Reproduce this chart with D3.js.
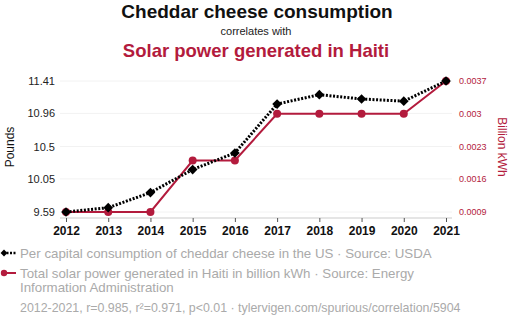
<!DOCTYPE html>
<html>
<head>
<meta charset="utf-8">
<script src="https://cdn.jsdelivr.net/npm/d3@7"></script>
<style>
  body { margin: 0; background: #fff; }
  svg { font-family: "Liberation Sans", Arial, Helvetica, sans-serif; }
</style>
</head>
<body>
<svg id="chart" width="512" height="321"></svg>
<script>
const years = [2012, 2013, 2014, 2015, 2016, 2017, 2018, 2019, 2020, 2021];
const cheddar = [9.59, 9.65, 9.86, 10.18, 10.41, 11.09, 11.22, 11.16, 11.13, 11.41];
const solar = [0.0009, 0.0009, 0.0009, 0.002, 0.002, 0.003, 0.003, 0.003, 0.003, 0.0037];
const leftTicks = [9.59, 10.05, 10.5, 10.96, 11.41];
const rightTicks = [0.0009, 0.0016, 0.0023, 0.003, 0.0037];

const red = '#b31b3d';
const svg = d3.select('#chart');

// titles
svg.append('text').attr('x', 257).attr('y', 18).attr('text-anchor', 'middle')
  .attr('font-size', 19).attr('font-weight', 'bold').attr('fill', '#111')
  .text('Cheddar cheese consumption');
svg.append('text').attr('x', 256).attr('y', 35).attr('text-anchor', 'middle')
  .attr('font-size', 11).attr('fill', '#222')
  .text('correlates with');
svg.append('text').attr('x', 256).attr('y', 57).attr('text-anchor', 'middle')
  .attr('font-size', 18.5).attr('font-weight', 'bold').attr('fill', red)
  .text('Solar power generated in Haiti');

const x = d3.scaleLinear().domain([2012, 2021]).range([66, 446]);
const yL = d3.scaleLinear().domain([9.59, 11.41]).range([212, 81]);
const yR = d3.scaleLinear().domain([0.0009, 0.0037]).range([212, 81]);

// faint horizontal grid
svg.append('g').selectAll('line').data(leftTicks).join('line')
  .attr('x1', 60).attr('x2', 452)
  .attr('y1', d => yL(d)).attr('y2', d => yL(d))
  .attr('stroke', '#f2f2f2').attr('stroke-width', 1);

// left axis labels
svg.append('g').selectAll('text').data(leftTicks).join('text')
  .attr('x', 55).attr('y', d => yL(d) + 4).attr('text-anchor', 'end')
  .attr('font-size', 11).attr('fill', '#222')
  .text(d => d);

// right axis labels
svg.append('g').selectAll('text').data(rightTicks).join('text')
  .attr('x', 459).attr('y', d => yR(d) + 3).attr('text-anchor', 'start')
  .attr('font-size', 9).attr('fill', red)
  .text(d => d);

svg.append('text').attr('transform', 'translate(14,147) rotate(-90)')
  .attr('text-anchor', 'middle').attr('font-size', 12).attr('fill', '#111')
  .text('Pounds');
svg.append('text').attr('transform', 'translate(498,147) rotate(90)')
  .attr('text-anchor', 'middle').attr('font-size', 12).attr('fill', red)
  .text('Billion kWh');

// x axis
const xAxis = svg.append('g').attr('transform', 'translate(0,218)')
  .call(d3.axisBottom(x).tickValues(years).tickFormat(d3.format('d')).tickSize(4).tickPadding(4));
xAxis.select('.domain').attr('d', 'M60,0H452').attr('stroke', '#ddd').attr('stroke-width', 1.5);
xAxis.selectAll('.tick line').attr('stroke', '#555');
xAxis.selectAll('.tick text').attr('font-size', 12).attr('font-weight', 'bold')
  .attr('fill', '#111').attr('font-family', '"Liberation Sans", Arial, sans-serif');

// solar series
svg.append('path').datum(solar)
  .attr('fill', 'none').attr('stroke', red).attr('stroke-width', 2)
  .attr('d', d3.line().x((d, i) => x(years[i])).y(d => yR(d)));
svg.append('g').selectAll('circle').data(solar).join('circle')
  .attr('cx', (d, i) => x(years[i])).attr('cy', d => yR(d)).attr('r', 4)
  .attr('fill', red);

// cheddar series
svg.append('path').datum(cheddar)
  .attr('fill', 'none').attr('stroke', '#000').attr('stroke-width', 3)
  .attr('stroke-dasharray', '2,1.6')
  .attr('d', d3.line().x((d, i) => x(years[i])).y(d => yL(d)));
const diamond = d3.symbol().type(d3.symbolDiamond2).size(60);
svg.append('g').selectAll('path').data(cheddar).join('path')
  .attr('transform', (d, i) => `translate(${x(years[i])},${yL(d)})`)
  .attr('d', diamond).attr('fill', '#000');

// legend
const lg = svg.append('g');
lg.append('line').attr('x1', 3).attr('x2', 16).attr('y1', 253).attr('y2', 253)
  .attr('stroke', '#000').attr('stroke-width', 2.5).attr('stroke-dasharray', '2,1.5');
lg.append('path').attr('transform', 'translate(4,253)')
  .attr('d', d3.symbol().type(d3.symbolDiamond2).size(30)).attr('fill', '#000');
lg.append('text').attr('x', 20).attr('y', 258).attr('font-size', 13.3).attr('fill', '#aaa')
  .text('Per capital consumption of cheddar cheese in the US · Source: USDA');

lg.append('line').attr('x1', 3).attr('x2', 16).attr('y1', 273).attr('y2', 273)
  .attr('stroke', red).attr('stroke-width', 2);
lg.append('circle').attr('cx', 4).attr('cy', 273).attr('r', 3.2).attr('fill', red);
lg.append('text').attr('x', 20).attr('y', 278).attr('font-size', 13.3).attr('fill', '#aaa')
  .text('Total solar power generated in Haiti in billion kWh · Source: Energy');
lg.append('text').attr('x', 20).attr('y', 292).attr('font-size', 13.3).attr('fill', '#aaa')
  .text('Information Administration');

svg.append('text').attr('x', 20).attr('y', 312).attr('font-size', 12.4).attr('fill', '#aaa')
  .text('2012-2021, r=0.985, r²=0.971, p<0.01 · tylervigen.com/spurious/correlation/5904');
</script>
</body>
</html>
